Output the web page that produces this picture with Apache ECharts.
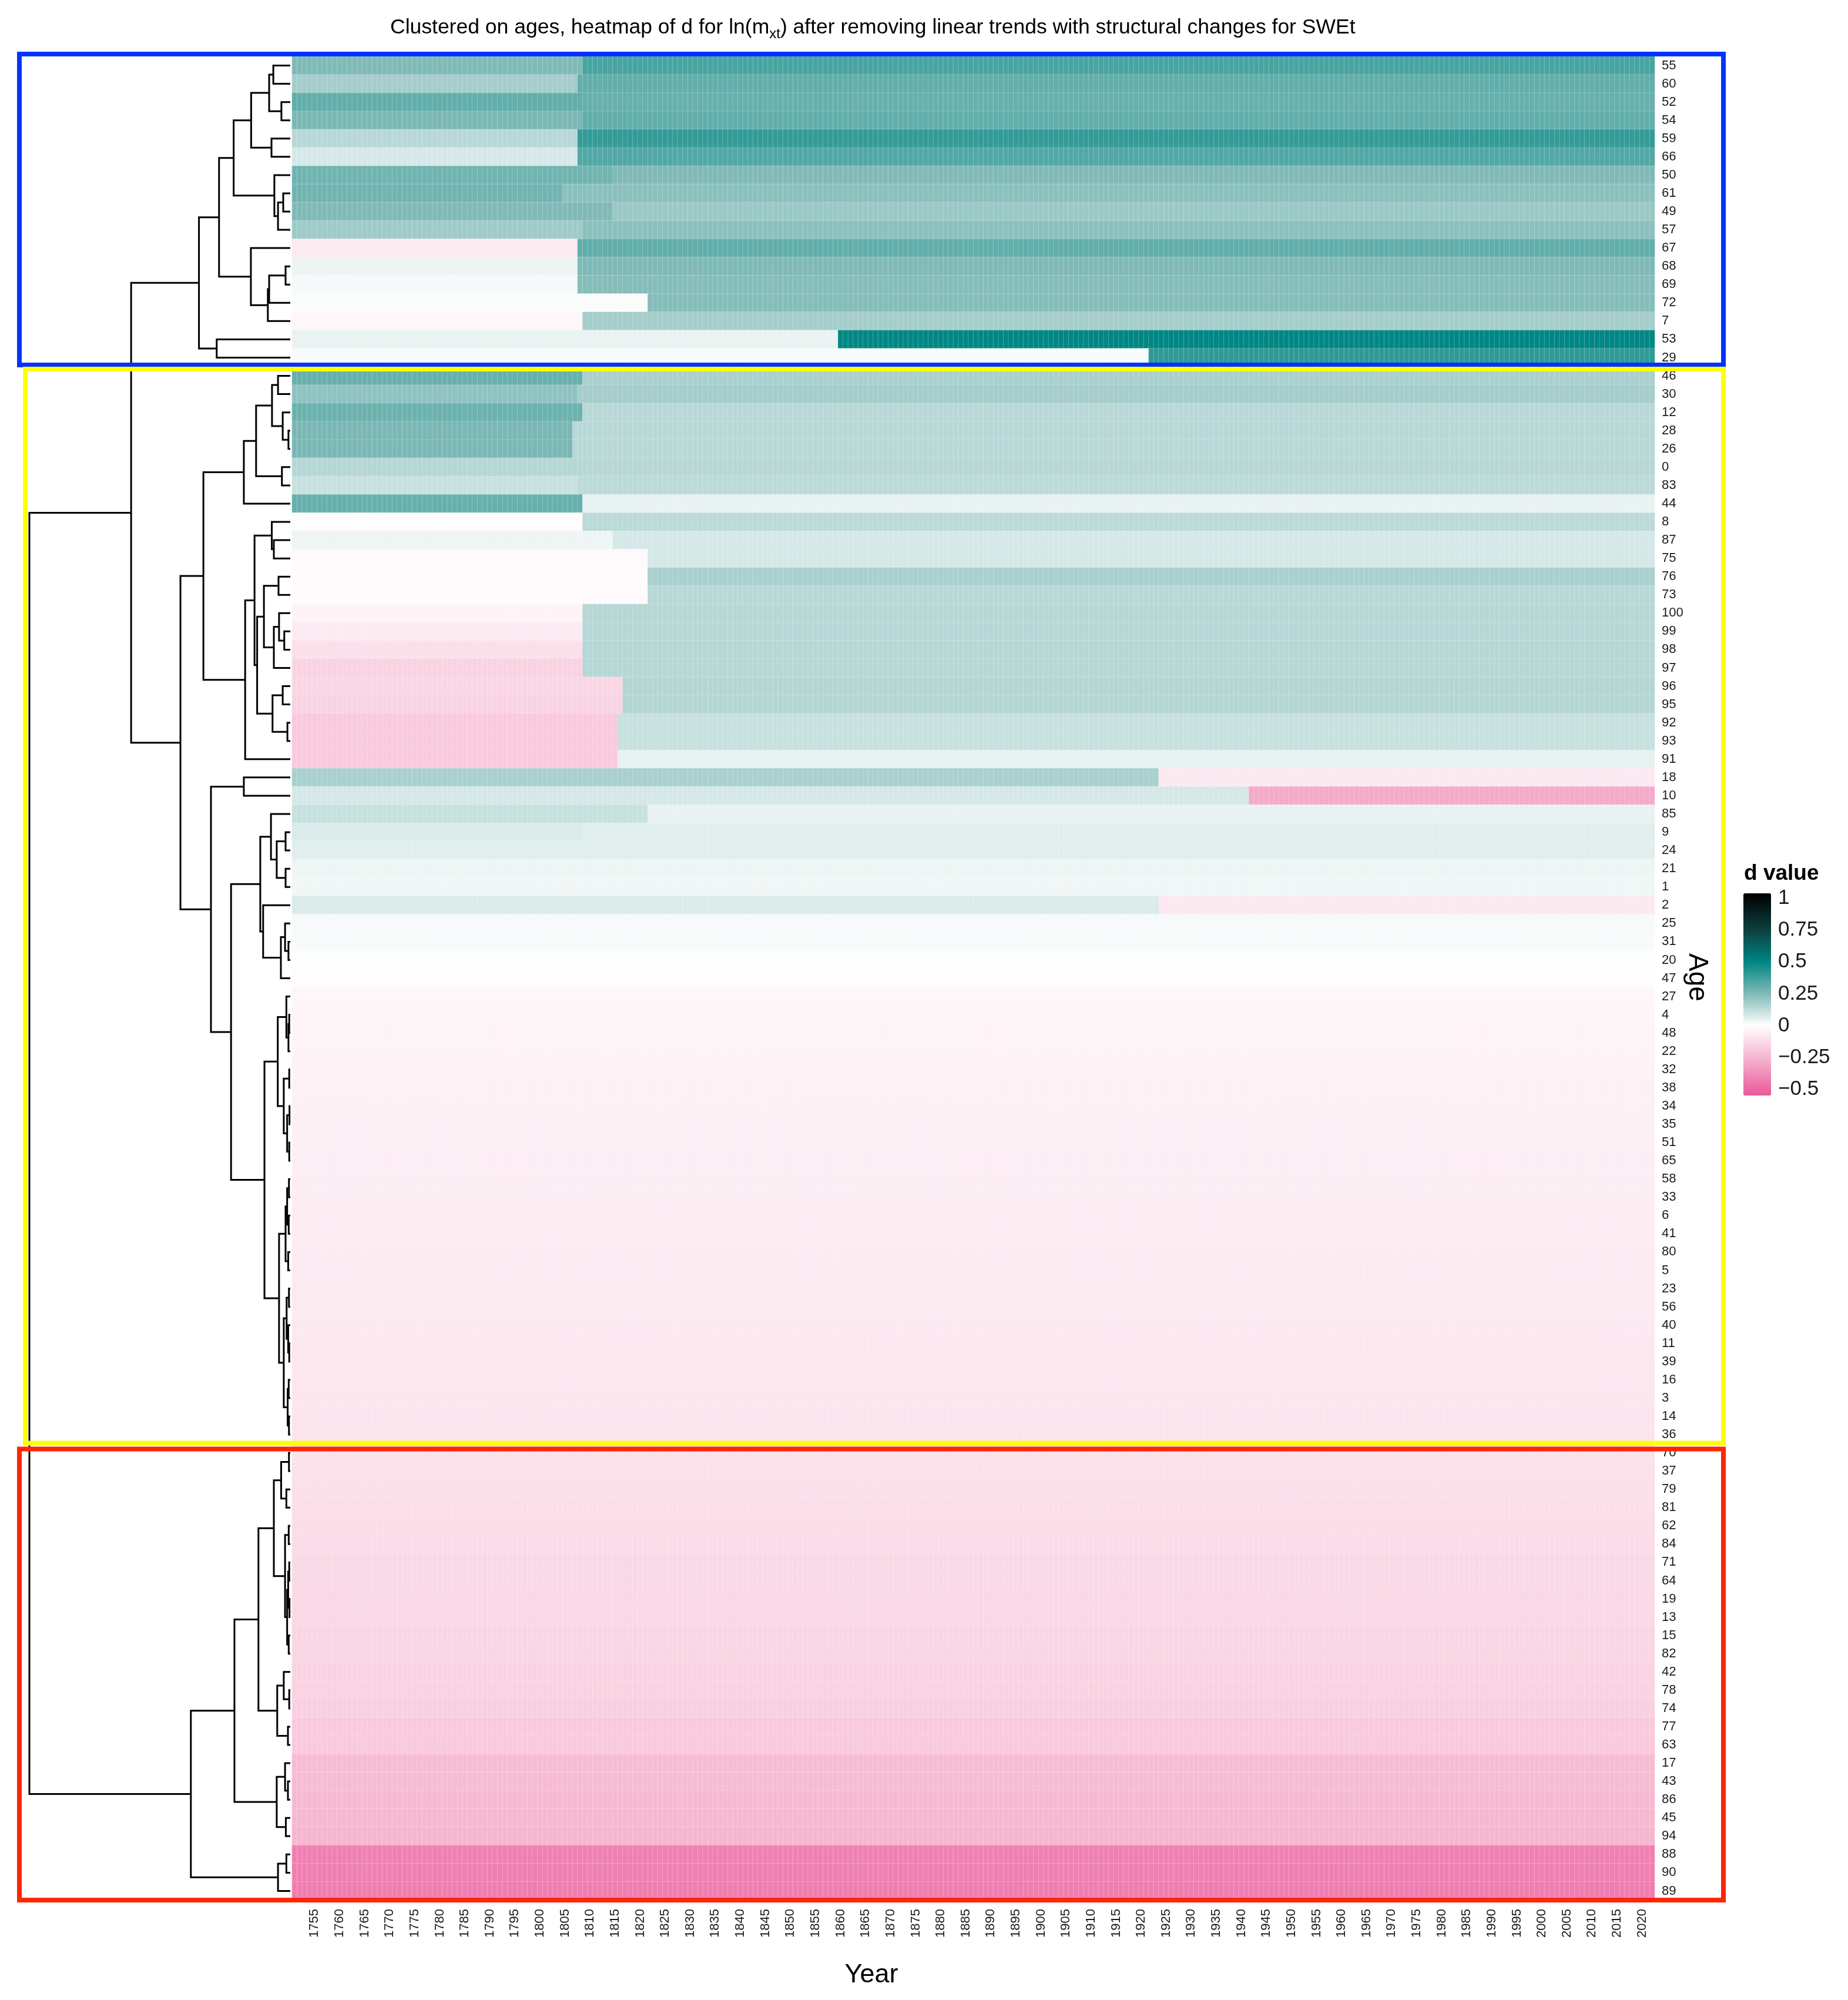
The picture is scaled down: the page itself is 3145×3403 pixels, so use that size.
<!DOCTYPE html>
<html><head><meta charset="utf-8">
<script src="https://cdn.jsdelivr.net/npm/echarts@6/dist/echarts.min.js"></script>
<style>html,body{margin:0;padding:0;background:#fff}#c{width:3145px;height:3403px}</style>
</head><body><div id="c"></div>
<script>
// ---------------- DATA ----------------
const firstYear = 1751, lastYear = 2022;
const tickYears = [1755,1760,1765,1770,1775,1780,1785,1790,1795,1800,1805,1810,1815,1820,1825,1830,1835,1840,1845,1850,1855,1860,1865,1870,1875,1880,1885,1890,1895,1900,1905,1910,1915,1920,1925,1930,1935,1940,1945,1950,1955,1960,1965,1970,1975,1980,1985,1990,1995,2000,2005,2010,2015,2020];

// row order (top to bottom) after clustering on ages
const rowAges = [55,60,52,54,59,66,50,61,49,57,67,68,69,72,7,53,29,
  46,30,12,28,26,0,83,44,8,87,75,76,73,100,99,98,97,96,95,92,93,91,18,10,85,9,24,21,1,2,25,31,20,47,27,4,48,22,32,38,34,35,51,65,58,33,6,41,80,5,23,56,40,11,39,16,3,14,36,
  70,37,79,81,62,84,71,64,19,13,15,82,42,78,74,77,63,17,43,86,45,94,88,90,89];

// first year of the second regime (null = no structural change visible)
const breakYears = [1809,1808,1809,1809,1808,1808,1815,1805,1815,1809,1808,1808,1808,1822,1809,1860,1922,
  1809,1808,1809,1807,1807,1808,1808,1809,1809,1815,1822,1822,1822,1809,1809,1809,1809,1817,1817,1816,1816,1816,1924,1942,1822,1809,null,null,null,1924,null,null,null,null,null,null,null,null,null,null,null,null,null,null,null,null,null,null,null,null,null,null,null,null,null,null,null,null,null,
  null,null,null,null,null,null,null,null,null,null,null,null,null,null,null,null,null,null,null,null,null,null,null,null,null];

// d value before the break (or for the whole row)
const earlyValues = [0.25,0.18,0.31,0.26,0.14,0.08,0.28,0.28,0.25,0.19,-0.073,0.035,0.02,0.01,-0.03,0.043,0.014,
  0.30,0.22,0.29,0.26,0.26,0.147,0.11,0.30,-0.01,0.033,-0.02,-0.015,-0.015,-0.04,-0.07,-0.11,-0.15,-0.14,-0.15,-0.18,-0.18,-0.18,0.17,0.085,0.11,0.075,0.06,0.033,0.03,0.075,0.018,0.014,0.004,-0.01,
  -0.03,-0.033,-0.036,-0.04,-0.045,-0.047,-0.05,-0.052,-0.055,-0.057,-0.06,-0.062,-0.065,-0.067,-0.07,-0.072,-0.075,-0.077,-0.08,-0.082,-0.085,-0.087,-0.09,-0.092,-0.095,
  -0.10,-0.105,-0.11,-0.115,-0.12,-0.125,-0.13,-0.13,-0.135,-0.135,-0.14,-0.145,-0.15,-0.155,-0.16,-0.18,-0.185,-0.23,-0.235,-0.24,-0.245,-0.25,-0.42,-0.425,-0.43];

// d value after the break
const lateValues = [0.36,0.31,0.30,0.31,0.40,0.34,0.25,0.23,0.20,0.23,0.31,0.25,0.24,0.24,0.18,0.50,0.41,
  0.17,0.18,0.14,0.14,0.14,0.143,0.135,0.045,0.135,0.085,0.085,0.17,0.14,0.145,0.145,0.145,0.145,0.15,0.15,0.11,0.11,0.05,-0.08,-0.29,0.045,0.06,null,null,null,-0.08,null,null,null,null,
  null,null,null,null,null,null,null,null,null,null,null,null,null,null,null,null,null,null,null,null,null,null,null,null,null,
  null,null,null,null,null,null,null,null,null,null,null,null,null,null,null,null,null,null,null,null,null,null,null,null,null];

// dendrogram: [left, right, height]; leaves are ages (height 0); root height = 1
const dendrogram = [
  [ // blue + yellow
    [ // blue cluster
      [[[[[55,60,0.065],[52,54,0.034],0.081],[59,66,0.072],0.150],[50,[[61,49,0.027],57,0.047],0.061],0.217],
        [67,[[[68,69,0.018],72,0.081],7,0.086],0.151],0.273],
      [53,29,0.282],0.350],
    [ // yellow cluster
      [[[[[46,30,0.047],[12,[28,26,0.007],0.029],0.070],[0,83,0.032],0.131],44,0.178],
        [[[8,[87,75,0.063],0.071],[[[76,73,0.045],[[100,[99,98,0.023],0.043],97,0.063],0.101],[[96,95,0.029],[92,93,0.011],0.068],0.127],0.137],91,0.173],0.333],
      [[18,10,0.178],
        [[[85,[[9,24,0.018],[21,1,0.018],0.052],0.074],[2,[[25,[31,20,0.007],0.020],47,0.036],0.104],0.115],
          [[[27,[[4,48,0.004],22,0.007],0.015],[[32,38,0.004],[[34,35,0.003],[51,65,0.004],0.012],0.025],0.048],
            [[[[58,33,0.005],[6,41,0.006],0.012],[80,5,0.008],0.018],[[[23,56,0.005],[40,[11,39,0.004],0.008],0.014],[[16,3,0.006],[14,36,0.005],0.010],0.025],0.043],0.099],0.227],0.304],0.421],
    0.610],
  [ // red cluster
    [[[[[70,37,0.005],[79,81,0.015],0.035],[[62,84,0.006],[[[71,64,0.004],[19,13,0.003],0.008],[15,82,0.006],0.012],0.020],0.063],
       [[42,[78,74,0.004],0.025],[77,63,0.009],0.050],0.122],
      [[17,[43,86,0.009],0.020],[45,94,0.017],0.052],0.214],
    [[88,90,0.015],89,0.047],0.381],
  1.0];

const clusterSizes = [17, 59, 25];
const clusterColors = ['#0433ff', '#ffff00', '#ff2600'];
const legendTicks = [-0.5, -0.25, 0, 0.25, 0.5, 0.75, 1];

// ---------------- BUILD ----------------
const years = [];
for (let y = firstYear; y <= lastYear; y++) years.push(y);

const cells = [];
rowAges.forEach((age, r) => {
  years.forEach((yr, c) => {
    const b = breakYears[r];
    const v = (b !== null && yr >= b) ? lateValues[r] : earlyValues[r];
    cells.push([c, r, v]);
  });
});

const segs = [];
function layout(node) {
  if (typeof node === 'number') return { y: rowAges.indexOf(node), h: 0 };
  const l = layout(node[0]), r = layout(node[1]), h = node[2];
  segs.push({ coords: [[l.h, l.y], [h, l.y], [h, r.y], [r.h, r.y]] });
  return { y: (l.y + r.y) / 2, h: h };
}
layout(dendrogram);

const vMin = -0.55, vMax = 1.04;
const anchors = [[-0.55,[230,92,152]],[-0.5,[236,104,164]],[-0.25,[246,182,208]],[0,[255,255,255]],
  [0.25,[128,186,183]],[0.5,[0,135,132]],[0.75,[12,64,64]],[1.04,[0,0,0]]];
function colorAt(v) {
  for (let i = 0; i < anchors.length - 1; i++) {
    const [a, ca] = anchors[i], [b, cb] = anchors[i + 1];
    if (v <= b || i === anchors.length - 2) {
      const t = Math.max(0, Math.min(1, (v - a) / (b - a)));
      const c = ca.map((x, k) => Math.round(x + (cb[k] - x) * t));
      return 'rgb(' + c.join(',') + ')';
    }
  }
}
const stops = [];
for (let i = 0; i <= 159; i++) stops.push(colorAt(vMin + (vMax - vMin) * i / 159));

const FONT = 'Liberation Sans';
const hm = { left: 497, top: 96, width: 2319, height: 3137 };
const bar = { left: 2967, top: 1520, width: 47, height: 344 };

const chart = echarts.init(document.getElementById('c'), null, { renderer: 'canvas' });
chart.setOption({
  animation: false,
  backgroundColor: '#fff',
  textStyle: { fontFamily: FONT },
  title: {
    text: 'Clustered on ages, heatmap of d for ln(m{sub|xt}) after removing linear trends with structural changes for SWEt',
    left: 659, top: 19,
    textStyle: { fontFamily: FONT, fontSize: 35.5, fontWeight: 'normal', color: '#000',
      rich: { sub: { fontFamily: FONT, fontSize: 24, color: '#000', padding: [22, 0, 0, 0] } } }
  },
  grid: [
    { left: hm.left, top: hm.top, width: hm.width, height: hm.height },
    { left: 50, top: hm.top, width: 444, height: hm.height },
    { left: bar.left, top: bar.top, width: bar.width, height: bar.height }
  ],
  xAxis: [
    { type: 'category', gridIndex: 0, data: years, position: 'bottom',
      axisLine: { show: false }, axisTick: { show: false }, splitLine: { show: false },
      axisLabel: { rotate: 90, fontSize: 22, color: '#1a1a1a', margin: 15, fontFamily: FONT,
        interval: (idx, val) => tickYears.indexOf(+val) >= 0 } },
    { type: 'value', gridIndex: 1, min: 0, max: 1, inverse: true, show: false },
    { type: 'value', gridIndex: 2, min: 0, max: 1, show: false }
  ],
  yAxis: [
    { type: 'category', gridIndex: 0, data: rowAges.map(String), inverse: true, position: 'right',
      axisLine: { show: false }, axisTick: { show: false }, splitLine: { show: false },
      axisLabel: { fontSize: 22, color: '#1a1a1a', margin: 12, fontFamily: FONT, interval: 0 } },
    { type: 'value', gridIndex: 1, min: -0.5, max: rowAges.length - 0.5, inverse: true, show: false },
    { type: 'value', gridIndex: 2, position: 'left', min: vMin, max: vMax,
      axisLine: { show: false }, splitLine: { show: false },
      axisTick: { show: true, inside: true, length: 11, customValues: legendTicks, lineStyle: { color: '#fff', width: 2 } },
      axisLabel: { show: false } },
    { type: 'value', gridIndex: 2, position: 'right', min: vMin, max: vMax,
      axisLine: { show: false }, splitLine: { show: false },
      axisTick: { show: true, inside: true, length: 11, customValues: legendTicks, lineStyle: { color: '#fff', width: 2 } },
      axisLabel: { show: true, customValues: legendTicks, fontSize: 35, color: '#1a1a1a', margin: 12, fontFamily: FONT,
        formatter: v => String(v).replace('-', '\u2212') } }
  ],
  visualMap: {
    type: 'continuous', seriesIndex: 0, dimension: 2, min: vMin, max: vMax,
    calculable: false, hoverLink: false, show: true, orient: 'vertical',
    left: bar.left, top: bar.top, itemWidth: bar.width, itemHeight: bar.height, padding: 0,
    inRange: { color: stops }
  },
  series: [
    { type: 'heatmap', xAxisIndex: 0, yAxisIndex: 0, data: cells, progressive: 0,
      itemStyle: { borderColor: 'rgba(255,255,255,0.22)', borderWidth: 1 }, emphasis: { disabled: true } },
    { type: 'lines', coordinateSystem: 'cartesian2d', xAxisIndex: 1, yAxisIndex: 1, polyline: true,
      data: segs, silent: true, lineStyle: { color: '#000', width: 3, opacity: 1 } },
    { type: 'line', xAxisIndex: 2, yAxisIndex: 2, data: [], silent: true }
  ]
});

// cluster frames, derived from row positions on the dendrogram scale
const frameX = [[33, 2933], [43, 2933], [33, 2933]];
const frameDy = [[-4, -3], [4, -1], [9, 0]];
const graphics = [];
let start = 0;
const order = [0, 2, 1];
const boxes = clusterSizes.map((n, k) => {
  const y0 = chart.convertToPixel({ gridIndex: 1 }, [0, start - 0.5])[1];
  const y1 = chart.convertToPixel({ gridIndex: 1 }, [0, start + n - 0.5])[1];
  start += n;
  return { x0: frameX[k][0], x1: frameX[k][1], y0: y0 + frameDy[k][0], y1: y1 + frameDy[k][1] };
});
order.forEach(k => {
  const b = boxes[k];
  graphics.push({ type: 'rect', z: 100, silent: true,
    shape: { x: b.x0, y: b.y0, width: b.x1 - b.x0, height: b.y1 - b.y0 },
    style: { fill: null, stroke: clusterColors[k], lineWidth: 8 } });
});
graphics.push({ type: 'text', z: 100, x: 1483, y: 3361, silent: true,
  style: { text: 'Year', font: '45px "' + FONT + '"', fill: '#000', textAlign: 'center', textVerticalAlign: 'middle' } });
graphics.push({ type: 'text', z: 100, x: 2888, y: 1663, rotation: -Math.PI / 2, silent: true,
  style: { text: 'Age', font: '46px "' + FONT + '"', fill: '#000', textAlign: 'center', textVerticalAlign: 'middle' } });
graphics.push({ type: 'text', z: 100, x: 2968, y: 1487, silent: true,
  style: { text: 'd value', font: 'bold 37px "' + FONT + '"', fill: '#000', textAlign: 'left', textVerticalAlign: 'middle' } });
chart.setOption({ graphic: graphics });
</script>
</body></html>
